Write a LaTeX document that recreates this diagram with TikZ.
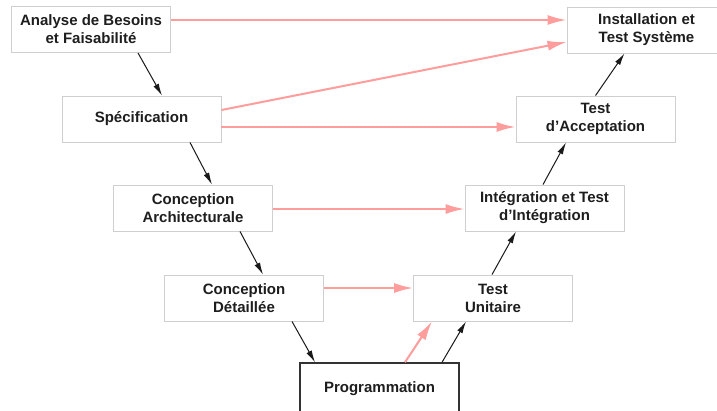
\documentclass[tikz,border=0pt]{standalone}
\usepackage{fontspec}
\setmainfont{Liberation Sans}
\usetikzlibrary{arrows.meta}
\definecolor{boxline}{HTML}{CFCFCF}
\definecolor{pinkline}{HTML}{FF9C9C}
\definecolor{txt}{HTML}{1E1E1E}
\tikzset{
  phase/.style={draw=boxline, line width=0.9pt, fill=white, minimum width=159pt,
    minimum height=46pt, inner sep=0pt, align=center, text=txt,
    font=\fontsize{15}{18}\selectfont\bfseries},
  mainphase/.style={phase, draw=black!80, line width=1.4pt},
  flow/.style={draw=black!90, line width=1pt, -{Latex[length=12pt,width=6pt]}},
  link/.style={draw=pinkline, line width=2pt, -{Latex[length=19pt,width=10pt]}}
}
\begin{document}
\begin{tikzpicture}[x=1pt,y=-1pt]
\useasboundingbox[fill=white] (0,0) rectangle (717,410);

% left branch of the V
\node[phase] (besoins) at (91,29.5) {Analyse de Besoins\\et Faisabilité};
\node[phase] (spec) at (141.5,119) {Spécification};
\node[phase] (archi) at (193,208) {Conception\\Architecturale};
\node[phase] (detail) at (244,298) {Conception\\Détaillée};
% bottom
\node[mainphase, minimum height=52pt] (prog) at (379.5,389) {Programmation};
% right branch of the V
\node[phase] (unit) at (493,298) {Test\\Unitaire};
\node[phase] (integ) at (544.5,208) {Intégration et Test\\d’Intégration};
\node[phase] (accept) at (595.5,119) {Test\\d’Acceptation};
\node[phase] (syst) at (646.5,30) {Installation et\\Test Système};

% development flow
\draw[flow] ([xshift=47pt]besoins.south) -- ([xshift=20.5pt]spec.north);
\draw[flow] ([xshift=48.5pt]spec.south) -- ([xshift=19pt]archi.north);
\draw[flow] ([xshift=47pt]archi.south) -- ([xshift=19pt]detail.north);
\draw[flow] ([xshift=48pt]detail.south) -- ([xshift=-64.5pt]prog.north);
\draw[flow] ([xshift=62.5pt]prog.north) -- ([xshift=-27pt]unit.south);
\draw[flow] ([xshift=-1pt]unit.north) -- ([xshift=-28.5pt]integ.south);
\draw[flow] ([xshift=-1.5pt]integ.north) -- ([xshift=-29.5pt]accept.south);
\draw[flow] ([xshift=0pt]accept.north) -- ([xshift=-22pt]syst.south);

% verification links
\draw[link] ([yshift=9.5pt]besoins.east) -- ([yshift=10pt]syst.west);
\draw[link] ([yshift=9pt]spec.east) -- ([yshift=-12pt]syst.west);
\draw[link] ([yshift=-8pt]spec.east) -- ([yshift=-8pt]accept.west);
\draw[link] ([yshift=-1pt]archi.east) -- ([yshift=-1pt]integ.west);
\draw[link] ([yshift=10pt]detail.east) -- ([yshift=10pt]unit.west);
\draw[link] ([xshift=25.5pt]prog.north) -- ([xshift=-61pt]unit.south);
\end{tikzpicture}
\end{document}
